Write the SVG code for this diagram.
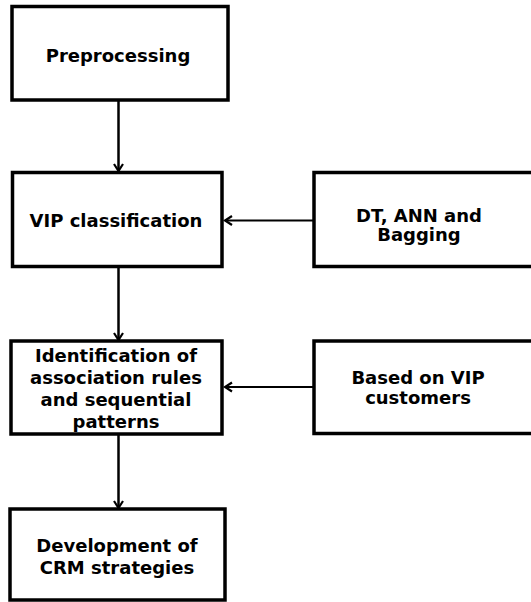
<svg xmlns="http://www.w3.org/2000/svg" width="531" height="602" viewBox="0 0 531 602">
<style>
.box{fill:#fff;stroke:#000;stroke-width:3.5}
.t{font-family:"DejaVu Sans",Verdana,sans-serif;font-weight:bold;font-size:18px;fill:#000;text-anchor:middle}
.c{fill:none;stroke:#000}
</style>
<defs>
<marker id="ah" markerWidth="12" markerHeight="12" refX="10" refY="6" orient="auto" markerUnits="userSpaceOnUse">
<path d="M3,1.5 L10,6 L3,10.5" fill="none" stroke="#000" stroke-width="2.2"/>
</marker>
</defs>
<rect width="531" height="602" fill="#fff"/>
<g id="connectors">
<line class="c" stroke-width="2.5" x1="118.5" y1="100" x2="118.5" y2="171" marker-end="url(#ah)"/>
<line class="c" stroke-width="2.5" x1="118.5" y1="267" x2="118.5" y2="340" marker-end="url(#ah)"/>
<line class="c" stroke-width="2.5" x1="118.5" y1="434" x2="118.5" y2="508" marker-end="url(#ah)"/>
<line class="c" stroke-width="1.8" x1="314" y1="220.5" x2="225" y2="220.5" marker-end="url(#ah)"/>
<line class="c" stroke-width="1.8" x1="314" y1="387" x2="225" y2="387" marker-end="url(#ah)"/>
</g>
<g id="preprocessing">
<rect class="box" x="12" y="6.5" width="216" height="93.5"/>
<text class="t" x="118" y="62">Preprocessing</text>
</g>
<g id="vip-classification">
<rect class="box" x="12.5" y="172.5" width="209.5" height="94"/>
<text class="t" x="116" y="227">VIP classification</text>
</g>
<g id="dt-ann-bagging">
<rect class="box" x="314" y="172.5" width="225" height="94"/>
<text class="t" x="419" y="222">DT, ANN and</text>
<text class="t" x="419" y="241">Bagging</text>
</g>
<g id="identification">
<rect class="box" x="11" y="341" width="211" height="93"/>
<text class="t" x="116" y="362">Identification of</text>
<text class="t" x="116" y="384">association rules</text>
<text class="t" x="116" y="406">and sequential</text>
<text class="t" x="116" y="428">patterns</text>
</g>
<g id="based-on-vip">
<rect class="box" x="314" y="341" width="225" height="92.5"/>
<text class="t" x="418" y="384">Based on VIP</text>
<text class="t" x="418" y="404">customers</text>
</g>
<g id="crm-strategies">
<rect class="box" x="10" y="509" width="215" height="91"/>
<text class="t" x="117" y="552">Development of</text>
<text class="t" x="117" y="574">CRM strategies</text>
</g>
</svg>
